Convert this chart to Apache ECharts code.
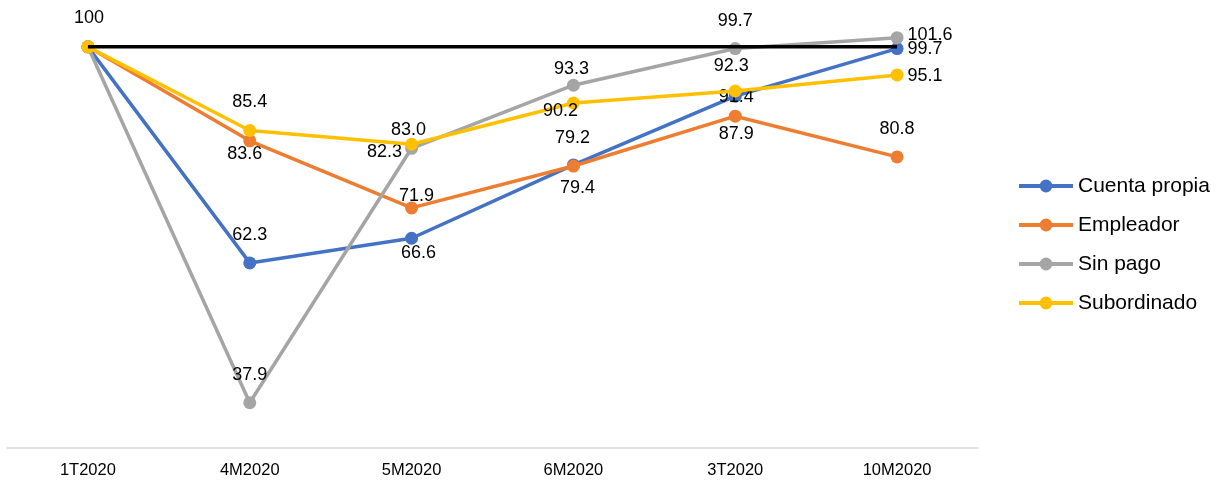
<!DOCTYPE html>
<html>
<head>
<meta charset="utf-8">
<script src="https://cdn.jsdelivr.net/npm/echarts@6/dist/echarts.min.js"></script>
<style>
  html, body { margin: 0; padding: 0; background: #fff; }
  #chart { width: 1225px; height: 480px; }
</style>
</head>
<body>
<div id="chart"></div>
<script>
// Periods on the horizontal axis
const categories = ['1T2020', '4M2020', '5M2020', '6M2020', '3T2020', '10M2020'];

// Index values (1T2020 = 100) by position in employment
const cuentaPropia = [100, 62.3, 66.6, 79.4, 91.4, 99.7];
const empleador    = [100, 83.6, 71.9, 79.2, 87.9, 80.8];
const sinPago      = [100, 37.9, 82.3, 93.3, 99.7, 101.6];
const subordinado  = [100, 85.4, 83.0, 90.2, 92.3, 95.1];

// Reference level
const baseLevel = [100, 100, 100, 100, 100, 100];

const seriesNames = ['Cuenta propia', 'Empleador', 'Sin pago', 'Subordinado'];
const seriesValues = [cuentaPropia, empleador, sinPago, subordinado];
const seriesColors = ['#4472C4', '#ED7D31', '#A5A5A5', '#FFC000'];

// Label placement per point: [position, dx, dy]; null hides the label
const labelPlacement = [
  [null, ['inside', 0, -28], ['inside', 7, 15], ['inside', 4, 23], ['inside', 1, 1], ['right', 0, 0]],
  [null, ['inside', -5, 13], ['inside', 5, -12], ['inside', -1, -28], ['inside', 1, 18], ['inside', 0, -28]],
  [null, ['inside', 0, -28], ['left', 0, 4], ['inside', -2, -16], ['inside', 0, -28], ['right', 0, -3]],
  [['inside', 1, -29], ['inside', 0, -28], ['inside', -3, -14], ['inside', -13, 8], ['inside', -4, -25], ['right', 0, 1]]
];

const fmt = v => (Number.isInteger(v) && v === 100) ? '100' : v.toFixed(1);
const FONT = '"Liberation Sans", Arial, sans-serif';

const chart = echarts.init(document.getElementById('chart'));

const series = seriesNames.map((name, si) => ({
  name: name,
  type: 'line',
  data: seriesValues[si].map((v, i) => {
    const p = labelPlacement[si][i];
    if (!p) return { value: v, label: { show: false } };
    return {
      value: v,
      label: {
        show: true,
        position: p[0],
        distance: p[0] === 'left' ? 3 : 4,
        offset: [p[1], p[2]],
        formatter: () => fmt(v)
      }
    };
  }),
  color: seriesColors[si],
  symbol: 'circle',
  symbolSize: 13,
  lineStyle: { width: 3.5, color: seriesColors[si] },
  itemStyle: { color: seriesColors[si] },
  label: {
    color: '#000',
    fontFamily: FONT,
    fontSize: 18
  },
  emphasis: { disabled: true },
  animation: false,
  z: 2 + si
}));

series.push({
  name: 'Base',
  type: 'line',
  data: baseLevel,
  symbol: 'none',
  lineStyle: { width: 3.5, color: '#000' },
  emphasis: { disabled: true },
  animation: false,
  z: 10
});

chart.setOption({
  animation: false,
  backgroundColor: '#fff',
  grid: { left: 7, right: 247, top: 1, bottom: 32, containLabel: false },
  legend: {
    data: seriesNames,
    orient: 'vertical',
    left: 1012,
    top: 170,
    itemWidth: 54,
    itemHeight: 16,
    itemGap: 17,
    lineStyle: { width: 4 },
    textStyle: { color: '#000', fontFamily: FONT, fontSize: 21, lineHeight: 22 }
  },
  xAxis: {
    type: 'category',
    data: categories,
    boundaryGap: true,
    axisLine: { show: true, lineStyle: { color: '#D9D9D9', width: 1.5 } },
    axisTick: { show: false },
    axisLabel: { color: '#000', fontFamily: FONT, fontSize: 16.5, margin: 14 },
    splitLine: { show: false }
  },
  yAxis: {
    type: 'value',
    min: 30,
    max: 108,
    show: false,
    splitLine: { show: false }
  },
  series: series
});
</script>
</body>
</html>
